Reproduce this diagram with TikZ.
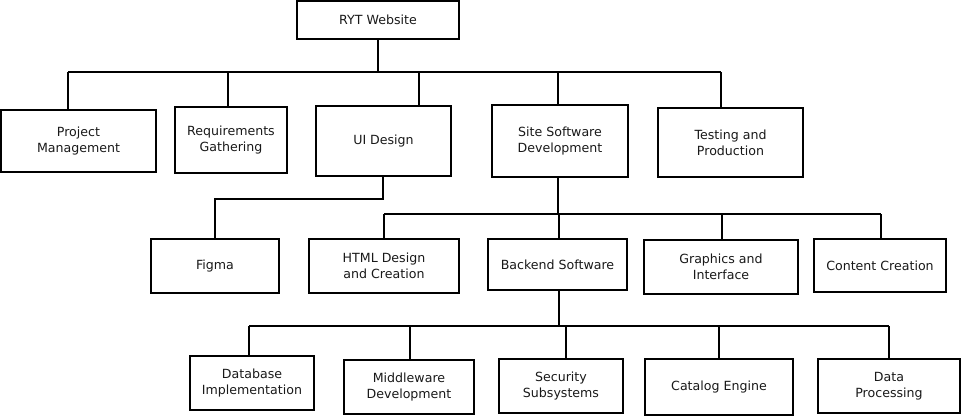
\documentclass[tikz,border=0pt]{standalone}
\usepackage{fontspec}
\setmainfont{DejaVu Sans}
\begin{document}
\begin{tikzpicture}[x=1pt,y=-1pt,
  box/.style={draw=black,line width=1.8pt,fill=white,align=center,inner sep=0pt,
    font=\fontsize{12.6}{15.6}\selectfont,text=black!90},
  conn/.style={draw=black,line width=1.8pt}]
\useasboundingbox (0,0) rectangle (962,418);
% level 0
\node[box,minimum width=162pt,minimum height=38pt] (root) at (378,20) {RYT Website};
% level 1
\node[box,minimum width=155pt,minimum height=62pt] (pm) at (78.5,141) {Project\\Management};
\node[box,minimum width=112pt,minimum height=66pt] (rg) at (231,140) {Requirements\\Gathering};
\node[box,minimum width=135pt,minimum height=70pt] (ui) at (383.5,141) {UI Design};
\node[box,minimum width=136pt,minimum height=72pt] (ssd) at (560,141) {Site Software\\Development};
\node[box,minimum width=145pt,minimum height=69pt] (tp) at (730.5,142.5) {Testing and\\Production};
% level 2
\node[box,minimum width=128pt,minimum height=54pt] (figma) at (215,266) {Figma};
\node[box,minimum width=150pt,minimum height=54pt] (html) at (384,266) {HTML Design\\and Creation};
\node[box,minimum width=139pt,minimum height=51pt] (be) at (557.5,264.5) {Backend Software};
\node[box,minimum width=154pt,minimum height=54pt] (gi) at (721,267) {Graphics and\\Interface};
\node[box,minimum width=132pt,minimum height=53pt] (cc) at (880,265.5) {Content Creation};
% level 3
\node[box,minimum width=124pt,minimum height=54pt] (db) at (252,383) {Database\\Implementation};
\node[box,minimum width=130pt,minimum height=54pt] (mw) at (409,387) {Middleware\\Development};
\node[box,minimum width=124pt,minimum height=54pt] (sec) at (561,386) {Security\\Subsystems};
\node[box,minimum width=148pt,minimum height=56pt] (cat) at (719,387) {Catalog Engine};
\node[box,minimum width=142pt,minimum height=54pt] (dp) at (889,386) {Data\\Processing};
% bus coordinates
\coordinate (t0) at (378,72);
\coordinate (t1) at (68,72);
\coordinate (t2) at (228,72);
\coordinate (t3) at (419,72);
\coordinate (t4) at (558,72);
\coordinate (t5) at (721,72);
\coordinate (u0) at (383,199);
\coordinate (uf) at (215,199);
\coordinate (s0) at (558,214);
\coordinate (m0) at (384,214);
\coordinate (m2) at (559,214);
\coordinate (m3) at (722,214);
\coordinate (m5) at (881,214);
\coordinate (b0) at (559,326);
\coordinate (b1) at (249,326);
\coordinate (b2) at (410,326);
\coordinate (b3) at (566,326);
\coordinate (b4) at (719,326);
\coordinate (b5) at (889,326);
% top level connectors
\draw[conn] (t0 |- root.south) -- (t0);
\draw[conn] (t1) -- (t5);
\draw[conn] (t1) -- (t1 |- pm.north);
\draw[conn] (t2) -- (t2 |- rg.north);
\draw[conn] (t3) -- (t3 |- ui.north);
\draw[conn] (t4) -- (t4 |- ssd.north);
\draw[conn] (t5) -- (t5 |- tp.north);
% UI -> Figma
\draw[conn] (u0 |- ui.south) -- (u0) -- (uf) -- (figma.north);
% Site software -> children
\draw[conn] (s0 |- ssd.south) -- (s0);
\draw[conn] (m0) -- (m5);
\draw[conn] (m0) -- (html.north);
\draw[conn] (m2) -- (m2 |- be.north);
\draw[conn] (m3) -- (m3 |- gi.north);
\draw[conn] (m5) -- (m5 |- cc.north);
% Backend -> children
\draw[conn] (b0 |- be.south) -- (b0);
\draw[conn] (b1) -- (b5);
\draw[conn] (b1) -- (b1 |- db.north);
\draw[conn] (b2) -- (b2 |- mw.north);
\draw[conn] (b3) -- (b3 |- sec.north);
\draw[conn] (b4) -- (b4 |- cat.north);
\draw[conn] (b5) -- (b5 |- dp.north);
\end{tikzpicture}
\end{document}
